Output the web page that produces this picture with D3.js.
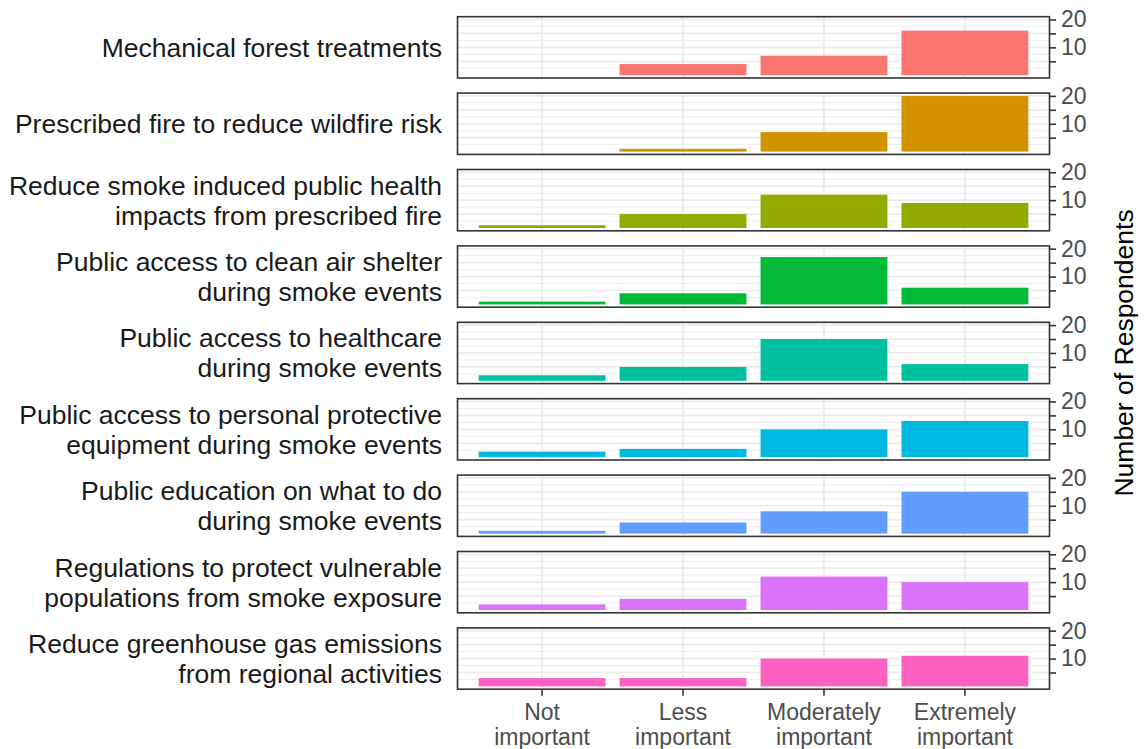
<!DOCTYPE html>
<html>
<head>
<meta charset="utf-8">
<script src="https://cdn.jsdelivr.net/npm/d3@7"></script>
<style>
html,body{margin:0;padding:0;background:#fff;}
text{font-family:"Liberation Sans",Arial,sans-serif;}
</style>
</head>
<body>
<svg id="chart" width="1146" height="749"></svg>
<script>
// ---- data ----
const categories = ["Not important","Less important","Moderately important","Extremely important"];
const categoryLabels = [["Not","important"],["Less","important"],["Moderately","important"],["Extremely","important"]];
const facets = [
  ["Mechanical forest treatments"],
  ["Prescribed fire to reduce wildfire risk"],
  ["Reduce smoke induced public health","impacts from prescribed fire"],
  ["Public access to clean air shelter","during smoke events"],
  ["Public access to healthcare","during smoke events"],
  ["Public access to personal protective","equipment during smoke events"],
  ["Public education on what to do","during smoke events"],
  ["Regulations to protect vulnerable","populations from smoke exposure"],
  ["Reduce greenhouse gas emissions","from regional activities"]
];
const mechanical   = [0,4,7,16];
const prescribed   = [0,1,7,20];
const smokeHealth  = [1,5,12,9];
const cleanAir     = [1,4,17,6];
const healthcare   = [2,5,15,6];
const ppe          = [2,3,10,13];
const education    = [1,4,8,15];
const regulations  = [2,4,12,10];
const ghg          = [3,3,10,11];
const seriesValues = [mechanical,prescribed,smokeHealth,cleanAir,healthcare,ppe,education,regulations,ghg];
const colors = ["#F8766D","#D39200","#93AA00","#00BA38","#00C19F","#00B9E3","#619CFF","#DB72FB","#FF61C3"];
const yTicks = [5,10,15,20];
const yTickLabels = ["","10","","20"];
const yMinor = [2.5,7.5,12.5,17.5];

// ---- layout ----
const svg = d3.select("#chart");
const left = 457.5, right = 1049.5;
const top0 = 16.7, panelH = 61.3, step = 76.4;
const FONT = '"Liberation Sans",Arial,sans-serif';

// discrete scale with ggplot-like 0.6 expansion; bar width 0.9
const x = d3.scalePoint().domain(categories).range([left, right]).padding(0.6);
const unit = x.step();
const maxV = d3.max(seriesValues, s => d3.max(s));
const yDom = [-0.05*maxV, maxV*1.05];

facets.forEach((lab, fi) => {
  const t = top0 + fi*step, b = t + panelH;
  const y = d3.scaleLinear().domain(yDom).range([b, t]);
  const g = svg.append("g");
  // grid
  g.selectAll(".hmin").data(yMinor).enter().append("line")
    .attr("x1", left).attr("x2", right)
    .attr("y1", d => y(d)).attr("y2", d => y(d))
    .attr("stroke", "#ebebeb").attr("stroke-width", 0.9);
  g.selectAll(".hmaj").data(yTicks).enter().append("line")
    .attr("x1", left).attr("x2", right)
    .attr("y1", d => y(d)).attr("y2", d => y(d))
    .attr("stroke", "#ebebeb").attr("stroke-width", 1.7);
  g.selectAll(".vg").data(categories).enter().append("line")
    .attr("x1", d => x(d)).attr("x2", d => x(d))
    .attr("y1", t).attr("y2", b)
    .attr("stroke", "#ebebeb").attr("stroke-width", 1.7);
  // bars
  g.selectAll(".bar").data(seriesValues[fi]).enter().append("rect")
    .attr("x", (d,i) => x(categories[i]) - unit*0.45)
    .attr("width", unit*0.9)
    .attr("y", d => y(d))
    .attr("height", d => Math.max(0, y(0) - y(d)))
    .attr("fill", colors[fi]);
  // border
  g.append("rect").attr("x", left).attr("y", t).attr("width", right-left).attr("height", panelH)
    .attr("fill", "none").attr("stroke", "#333333").attr("stroke-width", 1.6);
  // right axis
  const ax = d3.axisRight(y).tickValues(yTicks).tickFormat((d,i) => yTickLabels[i]).tickSize(6.5).tickPadding(5);
  const axg = g.append("g").attr("transform", `translate(${right},0)`).call(ax);
  axg.select(".domain").remove();
  axg.selectAll("line").attr("stroke", "#333333").attr("stroke-width", 1.6);
  axg.selectAll("text").attr("fill", "#4d4d4d").style("font-size", "23px").style("font-family", FONT);
  // facet label
  const cy = (t + b)/2;
  const lh = 30;
  const tx = g.append("text").attr("x", 442).attr("text-anchor", "end")
    .attr("fill", "#1a1a1a").style("font-size", "26.5px");
  lab.forEach((line, li) => {
    tx.append("tspan").attr("x", 442)
      .attr("y", cy + (li - (lab.length-1)/2)*lh + 9.5)
      .text(line);
  });
});

// bottom x axis
const lastB = top0 + 8*step + panelH;
const xg = svg.append("g");
categories.forEach((c,i) => {
  xg.append("line").attr("x1", x(c)).attr("x2", x(c)).attr("y1", lastB).attr("y2", lastB+6.5)
    .attr("stroke", "#333333").attr("stroke-width", 1.6);
  const tt = xg.append("text").attr("text-anchor", "middle").attr("fill", "#4d4d4d").style("font-size", "23px");
  categoryLabels[i].forEach((line, li) => {
    tt.append("tspan").attr("x", x(c)).attr("y", lastB + 31 + li*25).text(line);
  });
});

// y title
svg.append("text").attr("transform", `translate(1133,${(top0 + lastB)/2}) rotate(-90)`)
  .attr("text-anchor", "middle").attr("fill", "#000000").style("font-size", "26.5px")
  .text("Number of Respondents");
</script>
</body>
</html>
